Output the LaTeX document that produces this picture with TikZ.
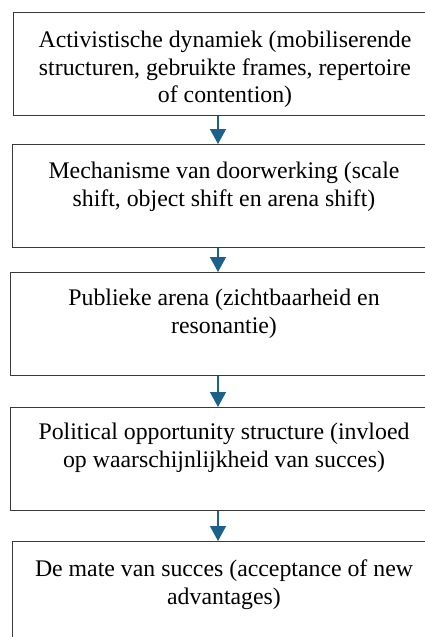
\documentclass[tikz,border=0pt]{standalone}
\usepackage{fontspec}
\setmainfont{Liberation Serif}
\newfontfamily\boxfont{Liberation Serif}
\usetikzlibrary{arrows.meta}
\definecolor{boxline}{HTML}{3A3A3A}
\definecolor{arrowblue}{HTML}{1B6189}
\begin{document}
\begin{tikzpicture}[x=1pt,y=-1pt,
  stepbox/.style={draw=boxline,line width=1.3pt,minimum width=424pt,minimum height=103pt,inner sep=0pt,anchor=north west},
  boxtext/.style={align=center,inner sep=0pt,anchor=north,font=\boxfont\fontsize{23.8}{27.5}\selectfont},
  flowarrow/.style={draw=arrowblue,line width=1.3pt,-{Triangle[length=15pt,width=16pt]}}]
\useasboundingbox (0,0) rectangle (424,637);
\coordinate (ax) at (218,0);
\node[stepbox] (b1) at (13,12) {};
\node[stepbox] (b2) at (12,144) {};
\node[stepbox] (b3) at (10,272) {};
\node[stepbox] (b4) at (10,407) {};
\node[stepbox] (b5) at (12,541) {};
\node[boxtext] (t1) at (225,31) {Activistische dynamiek (mobiliserende\\structuren, gebruikte frames, repertoire\\of contention)};
\node[boxtext] (t2) at (224,162) {Mechanisme van doorwerking (scale\\shift, object shift en arena shift)};
\node[boxtext] (t3) at (224,289) {Publieke arena (zichtbaarheid en\\resonantie)};
\node[boxtext] (t4) at (224,423) {Political opportunity structure (invloed\\op waarschijnlijkheid van succes)};
\node[boxtext] (t5) at (224,560) {De mate van succes (acceptance of new\\advantages)};
\draw[flowarrow] (b1.south -| ax) -- (b2.north -| ax);
\draw[flowarrow] (b2.south -| ax) -- (b3.north -| ax);
\draw[flowarrow] (b3.south -| ax) -- (b4.north -| ax);
\draw[flowarrow] (b4.south -| ax) -- (b5.north -| ax);
\end{tikzpicture}
\end{document}
